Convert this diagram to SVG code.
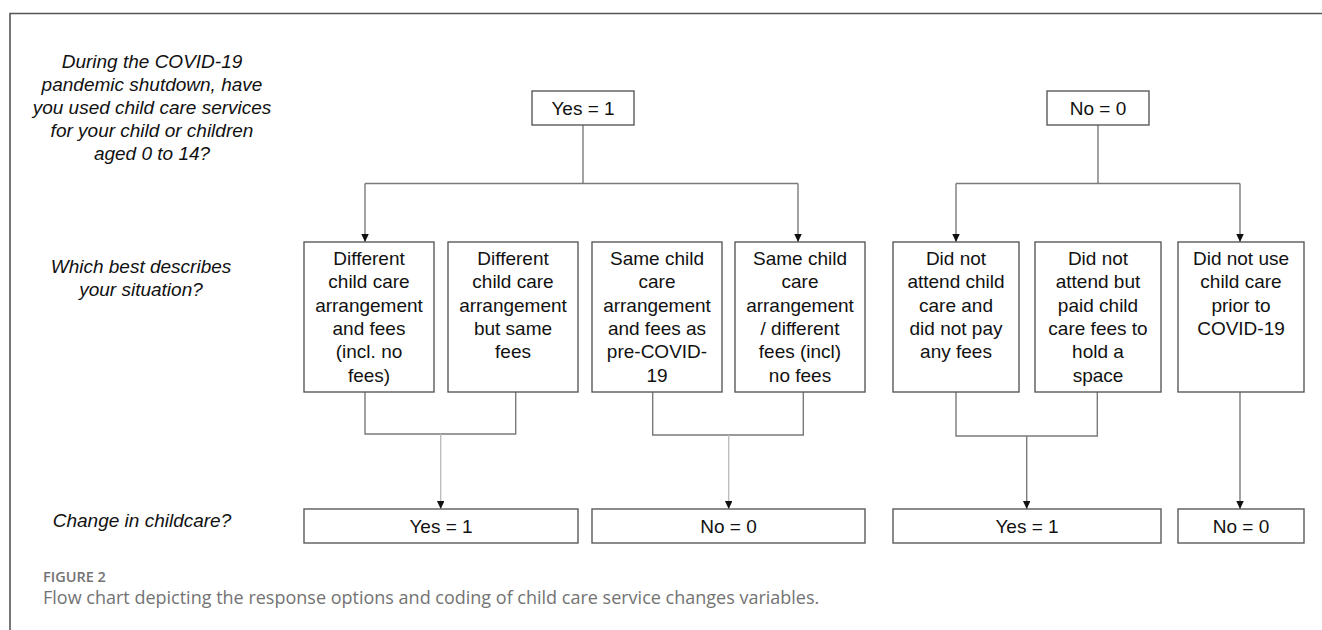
<svg xmlns="http://www.w3.org/2000/svg" width="1322" height="630" viewBox="0 0 1322 630">
<defs>
<marker id="arr" markerUnits="userSpaceOnUse" markerWidth="9" markerHeight="9" refX="8" refY="3.75" orient="auto">
<path d="M0,0 L8,3.75 L0,7.5 z" fill="#111"/>
</marker>
<style>
.box{fill:#fff;stroke:#5a5a5a;stroke-width:1.4}
.t{font-family:"Liberation Sans",Arial,sans-serif;font-size:19px;fill:#111;text-anchor:middle}
.q{font-family:"Liberation Sans",Arial,sans-serif;font-size:19px;font-style:italic;fill:#111;text-anchor:middle}
.c{fill:none;stroke:#7a7a7a;stroke-width:1.4}
.cl{fill:none;stroke:#bdbdbd;stroke-width:1.4}
.cap{font-family:"Open Sans","Noto Sans",sans-serif;fill:#737373}
</style>
</defs>
<rect width="1322" height="630" fill="#fff"/>
<path d="M10,630 V13.5 H1322" fill="none" stroke="#555" stroke-width="1.6"/>

<g id="questions">
<text class="q" x="152" y="68">During the COVID-19</text>
<text class="q" x="152" y="91">pandemic shutdown, have</text>
<text class="q" x="152" y="114">you used child care services</text>
<text class="q" x="152" y="137">for your child or children</text>
<text class="q" x="152" y="160">aged 0 to 14?</text>
<text class="q" x="141" y="273">Which best describes</text>
<text class="q" x="141" y="296">your situation?</text>
<text class="q" x="142" y="527">Change in childcare?</text>
</g>

<g id="connectors">
<path class="c" d="M583,125 V183.5"/>
<path class="c" d="M365,183.5 H798"/>
<path class="c" d="M365,183.5 V242" marker-end="url(#arr)"/>
<path class="c" d="M798,183.5 V242" marker-end="url(#arr)"/>
<path class="c" d="M1098,125 V183.5"/>
<path class="c" d="M956,183.5 H1240"/>
<path class="c" d="M956,183.5 V242" marker-end="url(#arr)"/>
<path class="c" d="M1240,183.5 V242" marker-end="url(#arr)"/>
<path class="c" d="M365,392 V434 H515.7 V392"/>
<path class="cl" d="M440.7,434 V509" marker-end="url(#arr)"/>
<path class="c" d="M652.7,392 V435 H803.3 V392"/>
<path class="cl" d="M728.7,435 V509" marker-end="url(#arr)"/>
<path class="c" d="M956,392 V436 H1097.3 V392"/>
<path class="c" d="M1026.7,436 V509" marker-end="url(#arr)"/>
<path class="c" d="M1240,392 V509" marker-end="url(#arr)"/>
</g>

<g id="yes-top">
<rect class="box" x="532" y="91" width="102" height="34"/>
<text class="t" x="583" y="115">Yes = 1</text>
</g>
<g id="no-top">
<rect class="box" x="1047" y="91" width="102" height="34"/>
<text class="t" x="1098" y="115">No = 0</text>
</g>

<g id="opt1">
<rect class="box" x="304" y="242" width="130" height="150"/>
<text class="t" x="369" y="265">Different</text>
<text class="t" x="369" y="288.3">child care</text>
<text class="t" x="369" y="311.6">arrangement</text>
<text class="t" x="369" y="334.9">and fees</text>
<text class="t" x="369" y="358.2">(incl. no</text>
<text class="t" x="369" y="381.5">fees)</text>
</g>
<g id="opt2">
<rect class="box" x="448" y="242" width="130" height="150"/>
<text class="t" x="513" y="265">Different</text>
<text class="t" x="513" y="288.3">child care</text>
<text class="t" x="513" y="311.6">arrangement</text>
<text class="t" x="513" y="334.9">but same</text>
<text class="t" x="513" y="358.2">fees</text>
</g>
<g id="opt3">
<rect class="box" x="592" y="242" width="130" height="150"/>
<text class="t" x="657" y="265">Same child</text>
<text class="t" x="657" y="288.3">care</text>
<text class="t" x="657" y="311.6">arrangement</text>
<text class="t" x="657" y="334.9">and fees as</text>
<text class="t" x="657" y="358.2">pre-COVID-</text>
<text class="t" x="657" y="381.5">19</text>
</g>
<g id="opt4">
<rect class="box" x="735" y="242" width="130" height="150"/>
<text class="t" x="800" y="265">Same child</text>
<text class="t" x="800" y="288.3">care</text>
<text class="t" x="800" y="311.6">arrangement</text>
<text class="t" x="800" y="334.9">/ different</text>
<text class="t" x="800" y="358.2">fees (incl)</text>
<text class="t" x="800" y="381.5">no fees</text>
</g>
<g id="opt5">
<rect class="box" x="893" y="242" width="126" height="150"/>
<text class="t" x="956" y="265">Did not</text>
<text class="t" x="956" y="288.3">attend child</text>
<text class="t" x="956" y="311.6">care and</text>
<text class="t" x="956" y="334.9">did not pay</text>
<text class="t" x="956" y="358.2">any fees</text>
</g>
<g id="opt6">
<rect class="box" x="1035" y="242" width="126" height="150"/>
<text class="t" x="1098" y="265">Did not</text>
<text class="t" x="1098" y="288.3">attend but</text>
<text class="t" x="1098" y="311.6">paid child</text>
<text class="t" x="1098" y="334.9">care fees to</text>
<text class="t" x="1098" y="358.2">hold a</text>
<text class="t" x="1098" y="381.5">space</text>
</g>
<g id="opt7">
<rect class="box" x="1178" y="242" width="126" height="150"/>
<text class="t" x="1241" y="265">Did not use</text>
<text class="t" x="1241" y="288.3">child care</text>
<text class="t" x="1241" y="311.6">prior to</text>
<text class="t" x="1241" y="334.9">COVID-19</text>
</g>

<g id="res1">
<rect class="box" x="304" y="509" width="274" height="34"/>
<text class="t" x="441" y="533">Yes = 1</text>
</g>
<g id="res2">
<rect class="box" x="592" y="509" width="273" height="34"/>
<text class="t" x="728.5" y="533">No = 0</text>
</g>
<g id="res3">
<rect class="box" x="893" y="509" width="268" height="34"/>
<text class="t" x="1027" y="533">Yes = 1</text>
</g>
<g id="res4">
<rect class="box" x="1178" y="509" width="126" height="34"/>
<text class="t" x="1241" y="533">No = 0</text>
</g>

<g id="caption">
<text class="cap" x="43" y="582" font-size="14.5" font-weight="600">FIGURE 2</text>
<text class="cap" x="43" y="604" font-size="18">Flow chart depicting the response options and coding of child care service changes variables.</text>
</g>
</svg>
